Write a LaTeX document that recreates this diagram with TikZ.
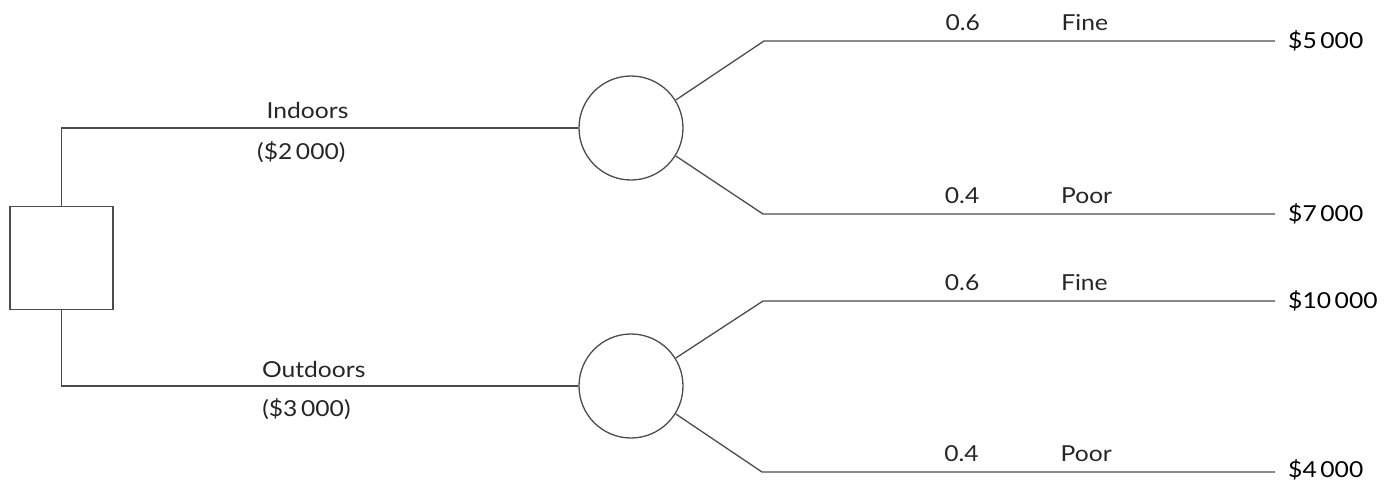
\documentclass[tikz,border=0pt]{standalone}
\usepackage{fontspec}
\setmainfont{Lato}[FakeStretch=1.12]
\usetikzlibrary{positioning, calc, shapes.geometric}

\tikzset{
    decision/.style={draw, rectangle, minimum size=103pt, inner sep=0pt},
    chance/.style={draw, circle, minimum size=104pt, inner sep=0pt},
    payoff/.style={anchor=west, inner xsep=13pt, inner ysep=0pt},
    branch/.style={black!70, line width=1.3pt},
    upper/.style={anchor=south west, inner sep=0pt, yshift=10pt, text=black!85},
    choice/.style={anchor=south, inner sep=0pt, text=black!85}
}

\begin{document}
\begin{tikzpicture}[x=1pt, y=-1pt, font=\fontsize{22}{26}\selectfont]
    \useasboundingbox (0,0) rectangle (1391,479);

    % Decision and chance nodes
    \node[decision, branch] (dec) at (61.5,258) {};
    \node[chance, branch] (wx1) at (631,128) {};
    \node[chance, branch] (wx2) at (631,386) {};

    % Knee points of the weather branches
    \coordinate (k11) at (764,41);
    \coordinate (k12) at (763,214);
    \coordinate (k21) at (763,301);
    \coordinate (k22) at (762,472);

    % Payoffs
    \node[payoff] (p11) at (1275,41)  {\$5\,000};
    \node[payoff] (p12) at (1275,214) {\$7\,000};
    \node[payoff] (p21) at (1275,301) {\$10\,000};
    \node[payoff, text depth=7pt] (p22) at (1275,472) {\$4\,000};

    % Decision branches
    \draw[branch] (dec.north) |- node[choice, pos=0.738, yshift=9pt] {Indoors}
        node[choice, pos=0.732, anchor=north, yshift=-13pt] {(\$2\,000)} (wx1.west);
    \draw[branch] (dec.south) |- node[choice, pos=0.744, yshift=8pt] {Outdoors}
        node[choice, pos=0.737, anchor=north, yshift=-12pt] {(\$3\,000)} (wx2.west);

    % Weather branches
    \draw[branch] (wx1.32) -- (k11) -- node[upper, pos=0.354] {0.6}
        node[upper, pos=0.581] {Fine} (p11.west);
    \draw[branch] (wx1.-32) -- (k12) -- node[upper, pos=0.354] {0.4}
        node[upper, pos=0.581] {Poor} (p12.west);
    \draw[branch] (wx2.32) -- (k21) -- node[upper, pos=0.354] {0.6}
        node[upper, pos=0.581] {Fine} (p21.west);
    \draw[branch] (wx2.-32) -- (k22) -- node[upper, pos=0.354] {0.4}
        node[upper, pos=0.581] {Poor} (p22.west);
\end{tikzpicture}
\end{document}
